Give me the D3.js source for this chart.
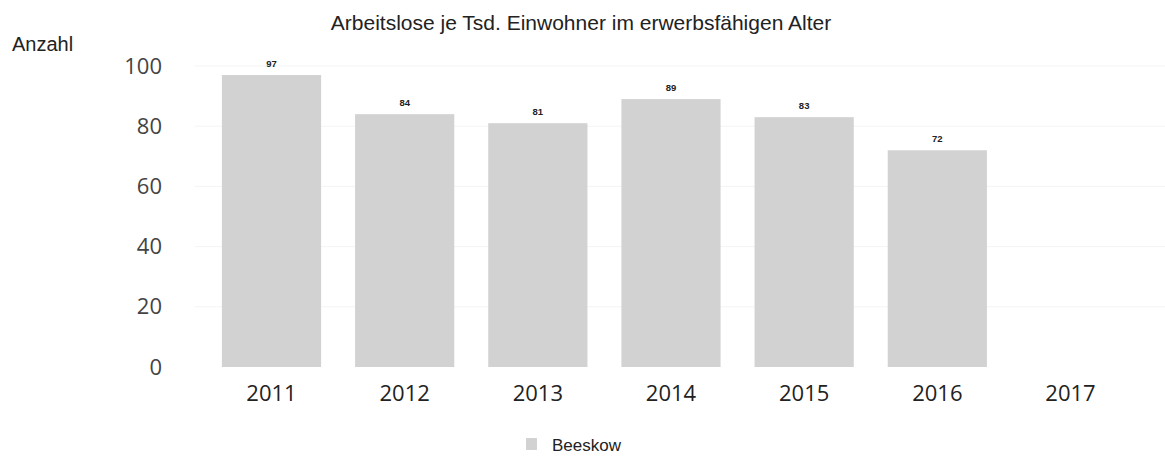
<!DOCTYPE html>
<html><head><meta charset="utf-8">
<script src="https://cdn.jsdelivr.net/npm/d3@7"></script>
<style>body{margin:0;background:#fff}</style>
</head><body>
<svg id="c" width="1165" height="456"></svg>
<script>
const categories = ["2011","2012","2013","2014","2015","2016","2017"];
const values = [97, 84, 81, 89, 83, 72, null];
const yTicks = [0, 20, 40, 60, 80, 100];
const seriesName = "Beeskow";
const titleText = "Arbeitslose je Tsd. Einwohner im erwerbsfähigen Alter";
const yLabel = "Anzahl";

const svg = d3.select("#c");
const x = d3.scaleBand().domain(categories).range([205, 1137]).paddingInner(0.255).paddingOuter(0.127);
const y = d3.scaleLinear().domain([0, 100]).range([367, 66]);

// grid
svg.append("g").selectAll("line").data(yTicks.filter(d=>d>0)).join("line")
  .attr("x1", 195).attr("x2", 1165)
  .attr("y1", d=>y(d)).attr("y2", d=>y(d))
  .attr("stroke", "#f4f4f4").attr("stroke-width", 1);

// bars
const data = categories.map((c,i)=>({c, v: values[i]})).filter(d=>d.v!=null);
svg.append("g").selectAll("rect").data(data).join("rect")
  .attr("x", d=>x(d.c)).attr("width", x.bandwidth())
  .attr("y", d=>y(d.v)).attr("height", d=>y(0)-y(d.v))
  .attr("fill", "#d2d2d2");

// value labels
svg.append("g").selectAll("text").data(data).join("text")
  .attr("x", d=>x(d.c)+x.bandwidth()/2).attr("y", d=>y(d.v)-8)
  .attr("text-anchor","middle").attr("font-family","Arial, Liberation Sans")
  .attr("font-weight","bold").attr("font-size", 9.5).attr("fill","#222")
  .text(d=>d.v);

// y axis
const yAxis = d3.axisLeft(y).tickValues(yTicks).tickSize(0).tickPadding(0);
const gy = svg.append("g").attr("transform","translate(162,0)").call(yAxis);
gy.select(".domain").remove();
gy.selectAll("text").attr("font-family","Open Sans, sans-serif").attr("font-size",22).attr("fill","#444");

// x axis
const xAxis = d3.axisBottom(x).tickSize(0).tickPadding(0);
const gx = svg.append("g").attr("transform","translate(0,401)").call(xAxis);
gx.select(".domain").remove();
gx.selectAll("text").attr("font-family","Open Sans, sans-serif").attr("font-size",22).attr("fill","#222").attr("dy","0");

// title
svg.append("text").attr("x",581).attr("y",30).attr("text-anchor","middle")
  .attr("font-family","Arial, Liberation Sans").attr("font-size",21).attr("fill","#222").text(titleText);
svg.append("text").attr("x",12).attr("y",51)
  .attr("font-family","Arial, Liberation Sans").attr("font-size",20).attr("fill","#222").text(yLabel);

// legend
const lg = svg.append("g").attr("transform","translate(526,438)");
lg.append("rect").attr("width",11).attr("height",12).attr("fill","#d2d2d2");
lg.append("text").attr("x",26).attr("y",13).attr("font-family","Arial, Liberation Sans")
  .attr("font-size",17).attr("fill","#222").text(seriesName);
</script>
</body></html>
